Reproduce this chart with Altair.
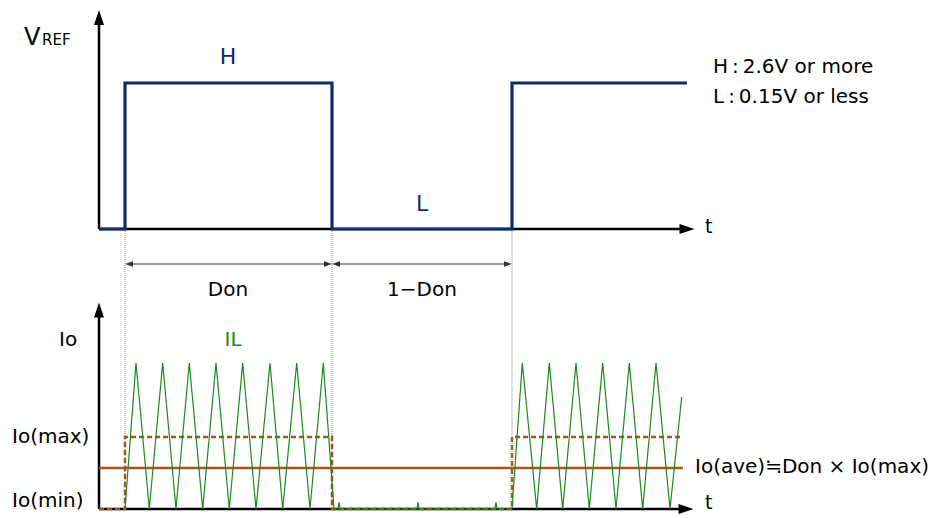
import altair as alt
import pandas as pd

# ---- schematic data (time axis and signal levels in drawing units) ----
# VREF waveform (top panel)
vref_t = [99, 125, 125, 332, 332, 512, 512, 687]
vref_v = [229, 229, 83, 83, 229, 229, 83, 83]

# Inductor current IL (bottom panel)
il_t = [125, 136, 149.3, 162.7, 176, 189.3, 202.7, 216, 229.3, 242.7, 256, 270,
        282.7, 296.7, 310, 323.3, 334, 338, 339, 340, 417, 418, 419, 495, 496, 497,
        512, 522.3, 536.7, 549.3, 562.7, 576, 589.3, 602.7, 616, 629.3, 642.7, 656,
        670, 681.7]
il_v = [509, 363, 509, 363, 509, 363, 509, 363, 509, 363, 509, 363,
        509, 363, 509, 363, 509, 509, 502, 509, 509, 502, 509, 509, 502, 509,
        509, 363, 509, 363, 509, 363, 509, 363, 509, 363, 509, 363,
        509, 397]

# Io(max) envelope (dashed)
iomax_t = [99, 125, 125, 332, 332, 512, 512, 680]
iomax_v = [509, 509, 437, 437, 509, 509, 437, 437]

# Io(ave) level (solid)
ioave_t = [99, 683]
ioave_v = [468, 468]

# switching edges (dotted guides)
edges_t = [125, 332, 512]

NAVY = "#0F2B6B"
GREEN = "#1A8A1A"
BROWN = "#A8551C"
FONT = "DejaVu Sans, Noto Sans CJK JP"

X = lambda: alt.X("x:Q", scale=alt.Scale(domain=[8, 935], nice=False, zero=False), axis=None)
Y = lambda: alt.Y("y:Q", scale=alt.Scale(domain=[8, 510], reverse=True, nice=False, zero=False), axis=None)


def line(xs, ys, **kw):
    df = pd.DataFrame({"x": xs, "y": ys, "i": range(len(xs))})
    return alt.Chart(df).mark_line(**kw).encode(x=X(), y=Y(), order="i:Q")


def seg(x1, y1, x2, y2, **kw):
    df = pd.DataFrame({"x": [x1], "y": [y1], "x2": [x2], "y2": [y2]})
    return alt.Chart(df).mark_rule(**kw).encode(x=X(), y=Y(), x2="x2:Q", y2="y2:Q")


def head(x, y, shape, size, color="black"):
    df = pd.DataFrame({"x": [x], "y": [y]})
    return alt.Chart(df).mark_point(shape=shape, size=size, filled=True, opacity=1,
                                    color=color, strokeWidth=0).encode(x=X(), y=Y())


def label(x, y, txt, size=20, color="black", align="left", baseline="middle"):
    df = pd.DataFrame({"x": [x], "y": [y], "t": [txt]})
    return alt.Chart(df).mark_text(align=align, baseline=baseline, font=FONT,
                                   fontSize=size, color=color).encode(x=X(), y=Y(), text="t:N")


UP = "M0,-1L0.667,1L-0.667,1Z"
RIGHT = "M1,0L-1,-0.667L-1,0.667Z"
LEFT = "M-1,0L1,-0.667L1,0.667Z"

layers = []
# dotted guides
for e in edges_t:
    layers.append(seg(e, 229, e, 509, color="#888888", strokeWidth=1, strokeDash=[1, 1]))

# axes
layers += [
    seg(99, 24, 99, 229, color="black", strokeWidth=2.5),
    seg(99, 229, 680, 229, color="black", strokeWidth=2.5),
    seg(99, 316, 99, 509, color="black", strokeWidth=2.5),
    seg(99, 509, 680, 509, color="black", strokeWidth=2.5),
    head(99, 17.5, UP, 225),
    head(687, 229, RIGHT, 225),
    head(99, 310, UP, 225),
    head(686, 509, RIGHT, 225),
]

# dimension arrows
layers += [
    seg(129, 264, 328, 264, color="#333333", strokeWidth=1.2),
    seg(336, 264, 508, 264, color="#333333", strokeWidth=1.2),
    head(129, 264, LEFT, 64, "#333333"),
    head(328, 264, RIGHT, 64, "#333333"),
    head(336, 264, LEFT, 64, "#333333"),
    head(508, 264, RIGHT, 64, "#333333"),
]

# waveforms
layers += [
    line(vref_t, vref_v, color=NAVY, strokeWidth=3.2, strokeJoin="miter"),
    line(ioave_t, ioave_v, color=BROWN, strokeWidth=2.5),
    line(iomax_t, iomax_v, color=BROWN, strokeWidth=2.5, strokeDash=[5, 3]),
    line(il_t, il_v, color=GREEN, strokeWidth=1.2, strokeJoin="miter"),
]

# texts
layers += [
    label(24, 45, "V", 24, baseline="alphabetic"),
    label(42, 45, "REF", 15, baseline="alphabetic"),
    label(228, 57, "H", 22, NAVY, align="center"),
    label(422, 204, "L", 22, NAVY, align="center"),
    label(705, 227, "t", 19),
    label(713, 67, "H\u2009:\u20092.6V or more", 20),
    label(713, 97, "L\u2009:\u20090.15V or less", 20),
    label(228, 290, "Don", 20, align="center"),
    label(422, 290, "1−Don", 20, align="center"),
    label(59, 340, "Io", 20),
    label(233, 340, "IL", 20, GREEN, align="center"),
    label(12, 437, "Io(max)", 20),
    label(12, 501, "Io(min)", 20),
    label(695, 467, "Io(ave)≒Don × Io(max)", 20),
    label(705, 503, "t", 19),
]

chart = alt.layer(*layers).properties(width=927, height=502, padding=0).configure_view(stroke=None)
chart.save("out.html", embed_options={"renderer": "svg", "actions": False})
